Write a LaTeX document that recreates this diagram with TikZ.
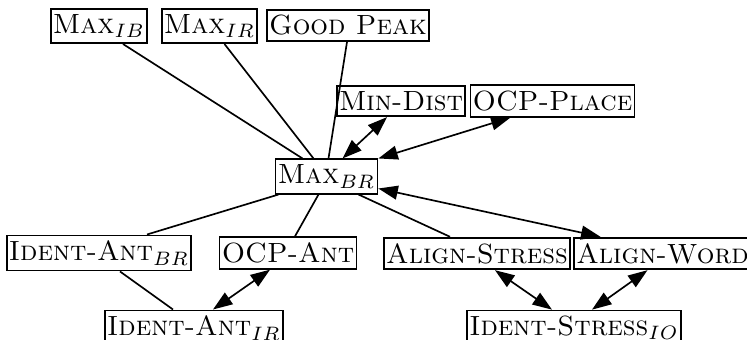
\documentclass[tikz,border=0pt]{standalone}
\usetikzlibrary{arrows.meta,calc}
\begin{document}
\begin{tikzpicture}[x=0.36pt,y=-0.36pt,
  con/.style={draw,rectangle,line width=0.65pt,inner xsep=0.8pt,inner ysep=2pt,font=\normalsize},
  link/.style={line width=0.6pt},
  both/.style={line width=0.6pt,{Triangle[length=7pt,width=5pt]}-{Triangle[length=7pt,width=5pt]}}]
\useasboundingbox (0,0) rectangle (747,340);

% constraints
\node[con] (maxib)    at (99,26)    {\textsc{Max}$_{IB}$};
\node[con] (maxir)    at (209.5,26) {\textsc{Max}$_{IR}$};
\node[con] (goodpeak) at (348,25.5) {\textsc{Good Peak}};
\node[con] (mindist)  at (401,101)  {\textsc{Min-Dist}};
\node[con] (ocpplace) at (552.5,101) {\textsc{OCP-Place}};
\node[con] (maxbr)    at (326.5,176.5) {\textsc{Max}$_{BR}$};
\node[con] (identbr)  at (99,253)   {\textsc{Ident-Ant}$_{BR}$};
\node[con] (ocpant)   at (288,253)  {\textsc{OCP-Ant}};
\node[con] (alstress) at (477,253.5) {\textsc{Align-Stress}};
\node[con] (alword)   at (662.5,253.5) {\textsc{Align-Word}};
\node[con] (identir)  at (194,328)  {\textsc{Ident-Ant}$_{IR}$};
\node[con] (identio)  at (574,328)  {\textsc{Ident-Stress}$_{IO}$};

% plain links
\draw[link] ($(maxib.south)+(24,0)$) -- ($(maxbr.north)+(-24,0)$);
\draw[link] ($(maxir.south)+(15,0)$) -- ($(maxbr.north)+(-13,0)$);
\draw[link] ($(goodpeak.south)+(-1,0)$) -- ($(maxbr.north)+(2,0)$);
\draw[link] ($(maxbr.south)+(-48,0)$) -- ($(identbr.north)+(48,0)$);
\draw[link] ($(maxbr.south)+(-8,0)$) -- ($(ocpant.north)+(7,0)$);
\draw[link] ($(maxbr.south)+(32,0)$) -- ($(alstress.north)+(-27,0)$);
\draw[link] ($(identbr.south)+(21,0)$) -- ($(identir.north)+(-21,0)$);

% two-way links
\draw[both] ($(mindist.south)+(-14,0)$) -- ($(maxbr.north)+(16,0)$);
\draw[both] ($(ocpplace.south)+(-42,0)$) -- (maxbr.north east);
\draw[both] ($(maxbr.east)+(0,12)$) -- ($(alword.north)+(-62,0)$);
\draw[both] ($(ocpant.south)+(-18,0)$) -- ($(identir.north)+(19,0)$);
\draw[both] ($(alstress.south)+(18,0)$) -- ($(identio.north)+(-22,0)$);
\draw[both] ($(alword.south)+(-15,0)$) -- ($(identio.north)+(18,0)$);
\end{tikzpicture}
\end{document}
